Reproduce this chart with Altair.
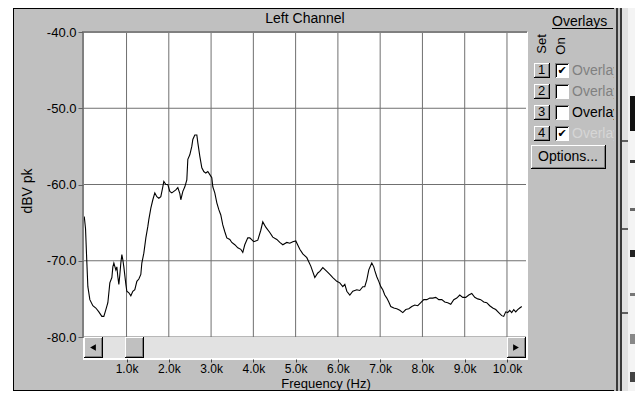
import altair as alt
import pandas as pd

# ---------------- data ----------------
freq_khz = [0.000, 0.030, 0.060, 0.085, 0.132, 0.203, 0.274, 0.345, 0.416, 0.463,
            0.511, 0.558, 0.605, 0.653, 0.676, 0.700, 0.747, 0.771, 0.794, 0.818,
            0.842, 0.865, 0.889, 0.913, 0.936, 0.984, 1.007, 1.055, 1.102, 1.149,
            1.196, 1.244, 1.291, 1.338, 1.362, 1.409, 1.457, 1.504, 1.527, 1.575,
            1.622, 1.669, 1.717, 1.764, 1.811, 1.858, 1.882, 1.930, 1.977, 2.024,
            2.071, 2.119, 2.166, 2.213, 2.261, 2.284, 2.332, 2.379, 2.426, 2.450,
            2.497, 2.544, 2.568, 2.615, 2.663, 2.686, 2.734, 2.781, 2.828, 2.875,
            2.923, 2.970, 3.017, 3.041, 3.088, 3.136, 3.183, 3.230, 3.277, 3.325,
            3.372, 3.443, 3.490, 3.561, 3.632, 3.703, 3.750, 3.797, 3.868, 3.916,
            4.010, 4.105, 4.176, 4.223, 4.294, 4.389, 4.460, 4.555, 4.626, 4.697,
            4.791, 4.862, 4.933, 5.004, 5.099, 5.170, 5.265, 5.359, 5.454, 5.525,
            5.572, 5.643, 5.738, 5.809, 5.880, 5.974, 6.045, 6.116, 6.164, 6.211,
            6.282, 6.353, 6.447, 6.518, 6.589, 6.636, 6.684, 6.731, 6.778, 6.802,
            6.849, 6.873, 6.920, 6.967, 7.015, 7.062, 7.109, 7.157, 7.204, 7.251,
            7.322, 7.393, 7.464, 7.535, 7.606, 7.677, 7.748, 7.819, 7.890, 7.961,
            8.032, 8.103, 8.174, 8.245, 8.316, 8.387, 8.458, 8.528, 8.599, 8.670,
            8.741, 8.812, 8.883, 8.954, 9.025, 9.096, 9.167, 9.237, 9.308, 9.379,
            9.450, 9.521, 9.592, 9.663, 9.734, 9.805, 9.876, 9.923, 9.970, 10.018,
            10.065, 10.112, 10.160, 10.207, 10.254, 10.301, 10.349]
level_db = [-64.2, -65.8, -70.1, -73.4, -75.1, -75.9, -76.2, -76.7, -77.3, -77.3,
            -76.4, -75.5, -72.9, -72.2, -70.8, -70.3, -71.2, -70.8, -72.1, -73.1,
            -71.8, -70.3, -69.2, -69.9, -70.8, -73.1, -74.0, -74.2, -74.6, -74.0,
            -73.8, -72.7, -72.4, -71.8, -70.3, -69.0, -67.0, -65.5, -64.6, -63.1,
            -62.0, -61.1, -61.6, -61.8, -61.6, -60.3, -59.6, -60.0, -60.0, -60.9,
            -61.1, -60.9, -60.7, -60.4, -61.2, -62.0, -60.9, -60.3, -59.4, -56.7,
            -56.1, -55.0, -54.1, -53.5, -53.5, -54.5, -56.3, -57.8, -58.3, -58.5,
            -58.3, -58.7, -59.1, -60.3, -61.1, -62.4, -63.3, -64.0, -65.3, -66.2,
            -67.0, -67.2, -67.6, -67.9, -68.3, -68.5, -68.9, -67.9, -67.0, -67.0,
            -67.5, -67.3, -66.0, -64.9, -65.6, -66.3, -66.9, -67.2, -67.6, -67.9,
            -67.6, -67.7, -67.5, -67.4, -68.5, -69.1, -69.6, -70.7, -72.2, -71.6,
            -71.4, -70.9, -71.4, -71.8, -72.2, -72.7, -72.9, -73.4, -73.1, -74.0,
            -74.5, -74.0, -73.8, -73.9, -73.4, -73.4, -72.5, -71.2, -70.6, -70.3,
            -70.8, -71.3, -72.1, -72.7, -73.4, -73.8, -74.5, -74.9, -75.4, -76.0,
            -76.2, -76.3, -76.5, -76.8, -76.4, -76.3, -76.0, -75.8, -75.9, -75.5,
            -75.1, -75.1, -74.9, -74.9, -74.8, -75.1, -75.1, -75.4, -75.5, -75.7,
            -75.1, -74.9, -74.5, -74.8, -74.8, -74.5, -74.3, -74.8, -75.0, -75.1,
            -75.4, -75.5, -75.9, -76.2, -76.4, -76.8, -77.2, -77.3, -76.7, -76.8,
            -76.5, -76.8, -76.4, -76.7, -76.4, -76.2, -76.0]
x_ticks_hz = [1000, 2000, 3000, 4000, 5000, 6000, 7000, 8000, 9000, 10000]
y_ticks_db = [-80, -70, -60, -50, -40]
chart_title = "Left Channel"
x_title = "Frequency (Hz)"
y_title = "dBV pk"
overlay_rows = ["1", "2", "3", "4"]
overlay_checked = [True, False, False, True]
overlay_label = "Overlay"
overlay_text_colors = ["#808080", "#808080", "#000000", "#d6d6d6"]

# ---------------- layout helpers ----------------
FONT = "Liberation Sans"
OX, OY = 83, 32          # page position of the plot area's top-left corner
PW, PH = 443, 305        # plot area
one = pd.DataFrame({"k": [0]})


def R(x1, y1, x2, y2, c):
    return alt.Chart(one).mark_rect(color=c).encode(
        x=alt.value(x1 - OX), x2=alt.value(x2 - OX),
        y=alt.value(y1 - OY), y2=alt.value(y2 - OY))


def T(s, x, y, size=13, color="#000000", align="center", angle=0,
      font=FONT, baseline="middle"):
    kw = dict(text=s, fontSize=size, color=color, align=align,
              baseline=baseline, font=font)
    if angle:
        kw["angle"] = angle
    return alt.Chart(one).mark_text(**kw).encode(
        x=alt.value(x - OX), y=alt.value(y - OY))


def button(x1, y1, x2, y2):
    return [R(x1, y1, x2, y2, "#000000"), R(x1, y1, x2 - 1, y2 - 1, "#ffffff"),
            R(x1 + 1, y1 + 1, x2 - 1, y2 - 1, "#808080"),
            R(x1 + 1, y1 + 1, x2 - 2, y2 - 2, "#c0c0c0")]


def checkbox(x1, y1, x2, y2):
    return [R(x1, y1, x2, y2, "#808080"), R(x1 + 1, y1 + 1, x2, y2, "#ffffff"),
            R(x1 + 1, y1 + 1, x2 - 1, y2 - 1, "#000000"),
            R(x1 + 2, y1 + 2, x2 - 1, y2 - 1, "#ffffff")]


def arrow(shape, x, y):
    return alt.Chart(one).mark_point(shape=shape, filled=True, color="#000000",
                                     size=45, opacity=1).encode(
        x=alt.value(x - OX), y=alt.value(y - OY))


xs = alt.Scale(domain=[-30, 10450], nice=False, zero=False)
ys = alt.Scale(domain=[-80, -40], nice=False, zero=False)
xaxis = alt.Axis(values=x_ticks_hz, labelExpr="format(datum.value/1000,'.1f')+'k'",
                 offset=22, tickSize=3, tickColor="#404040", domain=False, grid=False,
                 labelFontSize=12, labelFont=FONT, labelColor="#000000", labelPadding=1,
                 labelFlush=False, labelOverlap=False, title=None, zindex=1)
yaxis = alt.Axis(values=y_ticks_db,
                 labelExpr="(datum.value<0?'-':'')+format(abs(datum.value),'.1f')",
                 tickSize=5, tickColor="#606060", domain=False, grid=False,
                 labelFontSize=13, labelFont=FONT, labelColor="#000000", labelPadding=2,
                 labelFlush=False, labelOverlap=False, title=None, zindex=1)

curve = pd.DataFrame({"f": [v * 1000 for v in freq_khz], "db": level_db})
vgrid = pd.DataFrame({"f": x_ticks_hz})
hgrid = pd.DataFrame({"db": y_ticks_db})

layers = []
# window panel
layers.append(R(13, 8, 617, 391, "#c0c0c0"))
layers.append(R(13, 8, 617, 9, "#000000"))
layers.append(R(13, 8, 14, 391, "#000000"))
layers.append(R(13, 390, 617, 391, "#000000"))
# plot well
layers.append(R(83, 32, 528, 360, "#ffffff"))
layers.append(R(84, 33, 526, 337, "#ffffff"))

# grid lines and the trace
layers.append(alt.Chart(vgrid).mark_rule(color="#707070", strokeWidth=1).encode(
    x=alt.X("f:Q", scale=xs, axis=xaxis)))
layers.append(alt.Chart(hgrid).mark_rule(color="#707070", strokeWidth=1).encode(
    y=alt.Y("db:Q", scale=ys, axis=yaxis)))
layers.append(alt.Chart(curve).mark_line(color="#000000", strokeWidth=1.1).encode(
    x=alt.X("f:Q", scale=xs, axis=xaxis), y=alt.Y("db:Q", scale=ys, axis=yaxis)))

# sunken border of the plot well
layers.append(R(82, 31, 527, 33, "#808080"))
layers.append(R(82, 31, 84, 337, "#808080"))

# scrollbar
layers.append(R(84, 337, 526, 358, "#e2e2e2"))
layers += button(84, 337, 103, 358)
layers.append(arrow("triangle-left", 93, 347.5))
layers += button(125, 337, 144, 358)
layers += button(507, 337, 526, 358)
layers.append(arrow("triangle-right", 516, 347.5))

# titles
layers.append(T(chart_title, 305, 19, size=14))
layers.append(T(x_title, 326, 384, size=13))
layers.append(T(y_title, 28, 191, size=14, angle=270))

# overlays panel
layers.append(T("Overlays", 552, 22, size=14, align="left"))
layers.append(R(552, 28, 613, 29, "#000000"))
layers.append(T("Set", 542, 44, size=13, angle=270))
layers.append(T("On", 561, 46, size=13, angle=270))
for i, (lab, chk, col) in enumerate(zip(overlay_rows, overlay_checked, overlay_text_colors)):
    top = 63 + 21 * i
    layers += button(534, top, 550, top + 15)
    layers.append(T(lab, 541.5, top + 7, size=13))
    layers += checkbox(555, top, 569, top + 15)
    if chk:
        layers.append(T("\u2714", 562, top + 8, size=11, font="DejaVu Sans"))
    layers.append(T(f"{overlay_label} {lab}", 572, top + 8, size=14, color=col, align="left"))
layers += button(531, 145, 606, 169)
layers.append(T("Options...", 568, 157, size=14))

# right-hand strip (covers clipped overlay labels)
layers.append(R(614, 8, 635, 391, "#c0c0c0"))
layers.append(R(616, 8, 618, 391, "#3a3a3a"))
layers.append(R(620, 8, 622, 391, "#3a3a3a"))
layers.append(R(622, 8, 628, 391, "#e2e2e2"))
layers.append(R(628, 8, 635, 391, "#f4f4f4"))
for (a, b, c) in [(96, 131, "#111111"), (160, 163, "#333333"), (208, 211, "#666666"),
                  (250, 257, "#222222"), (293, 296, "#777777"), (334, 344, "#888888"),
                  (372, 382, "#444444")]:
    layers.append(R(630, a, 635, b, c))
for (a, b) in [(140, 142), (228, 230), (312, 314)]:
    layers.append(R(622, a, 628, b, "#606060"))

chart = alt.layer(*layers).properties(
    width=PW, height=PH,
    padding={"left": 75, "top": 24, "right": 109, "bottom": 54},
    autosize=alt.AutoSizeParams(type="none"),
    background="#ffffff",
).configure_view(stroke=None)

chart.save("out.html", embed_options={"renderer": "svg", "actions": False})
